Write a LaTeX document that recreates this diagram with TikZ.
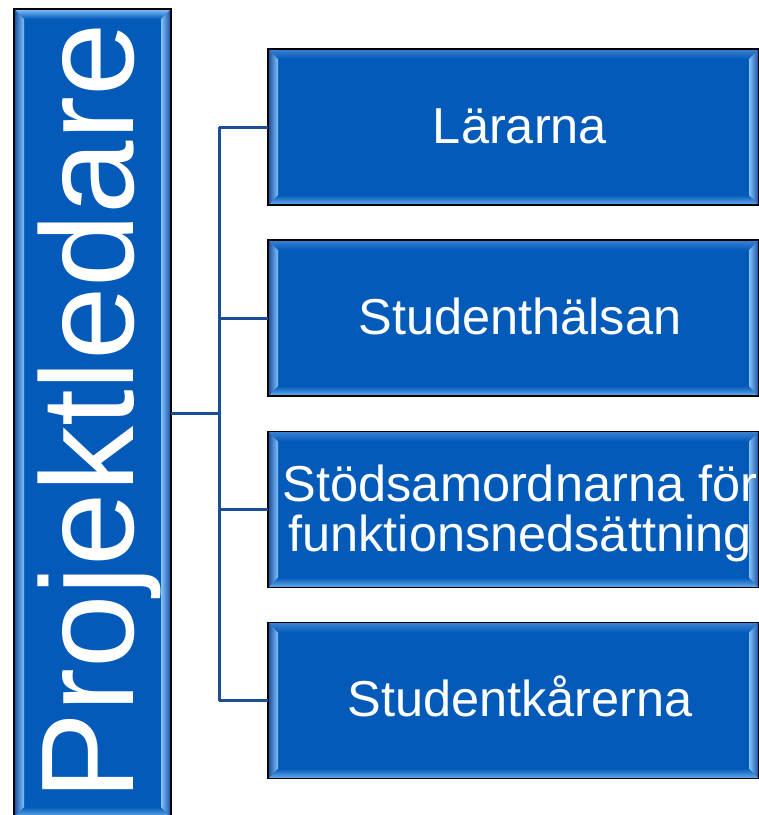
\documentclass[tikz,border=0pt]{standalone}
\usepackage{fontspec}
\setmainfont{Liberation Sans}
\usetikzlibrary{calc}
\definecolor{boxblue}{RGB}{3,90,185}
\definecolor{bevlight}{RGB}{130,195,250}
\definecolor{bevmid}{RGB}{60,130,210}
\definecolor{bevdark}{RGB}{20,75,160}
\definecolor{connblue}{RGB}{28,78,152}
\tikzset{
  bevelpic/.style={path picture={
    \path (path picture bounding box.north west) coordinate (nw)
          (path picture bounding box.south east) coordinate (se)
          (path picture bounding box.north east) coordinate (ne)
          (path picture bounding box.south west) coordinate (sw);
    \shade[top color=#1, bottom color=boxblue] (nw) -- (ne) -- ($(ne)+(-10pt,-10pt)$) -- ($(nw)+(10pt,-10pt)$) -- cycle;
    \shade[bottom color=bevlight!80!boxblue, top color=boxblue] (sw) -- (se) -- ($(se)+(-10pt,10pt)$) -- ($(sw)+(10pt,10pt)$) -- cycle;
    \shade[left color=bevdark, right color=bevlight] (nw) -- ($(nw)+(10pt,-10pt)$) -- ($(sw)+(10pt,10pt)$) -- (sw) -- cycle;
    \shade[right color=bevdark, left color=bevlight] (ne) -- ($(ne)+(-10pt,-10pt)$) -- ($(se)+(-10pt,10pt)$) -- (se) -- cycle;
  }},
  rbox/.style={draw=black, line width=1.5pt, fill=boxblue, minimum width=491pt,
    minimum height=156pt, inner sep=0pt, outer sep=0pt, bevelpic=bevmid},
  lbox/.style={draw=black, line width=1.5pt, fill=boxblue, minimum width=157pt,
    minimum height=808pt, inner sep=0pt, outer sep=0pt, bevelpic=bevlight},
  rtext/.style={text=white, font=\fontsize{50.5}{58}\selectfont, anchor=base, inner sep=0pt},
  conn/.style={draw=connblue, line width=3pt},
}
\begin{document}
\begin{tikzpicture}[x=1pt,y=-1pt]
\useasboundingbox (0,0) rectangle (759,815);
\node[lbox] (lead) at (92.5,413) {};
\node[text=white, font=\fontsize{132}{150}\selectfont, rotate=90, anchor=base, inner sep=0pt] (leadtxt) at (133,412) {Projektledare};

\node[rbox] (b1) at (513.5,127) {};
\node[rbox] (b2) at (513.5,318) {};
\node[rbox] (b3) at (513.5,509.5) {};
\node[rbox] (b4) at (513.5,700.5) {};

\node[rtext] (t1) at (520,143) {Lärarna};
\node[rtext] (t2) at (520,334) {Studenthälsan};
\node[rtext] (t3a) at (520,501) {Stödsamordnarna för};
\node[rtext] (t3b) at (520,551) {funktionsnedsättning};
\node[rtext] (t4) at (520,716) {Studentkårerna};

\coordinate (bus) at (219,413);
\draw[conn] (lead.east |- bus) -- (bus);
\draw[conn] (bus |- b1.west) -- (bus |- b4.west);
\draw[conn] (bus |- b1.west) -- (b1.west);
\draw[conn] (bus |- b2.west) -- (b2.west);
\draw[conn] (bus |- b3.west) -- (b3.west);
\draw[conn] (bus |- b4.west) -- (b4.west);
\end{tikzpicture}
\end{document}
